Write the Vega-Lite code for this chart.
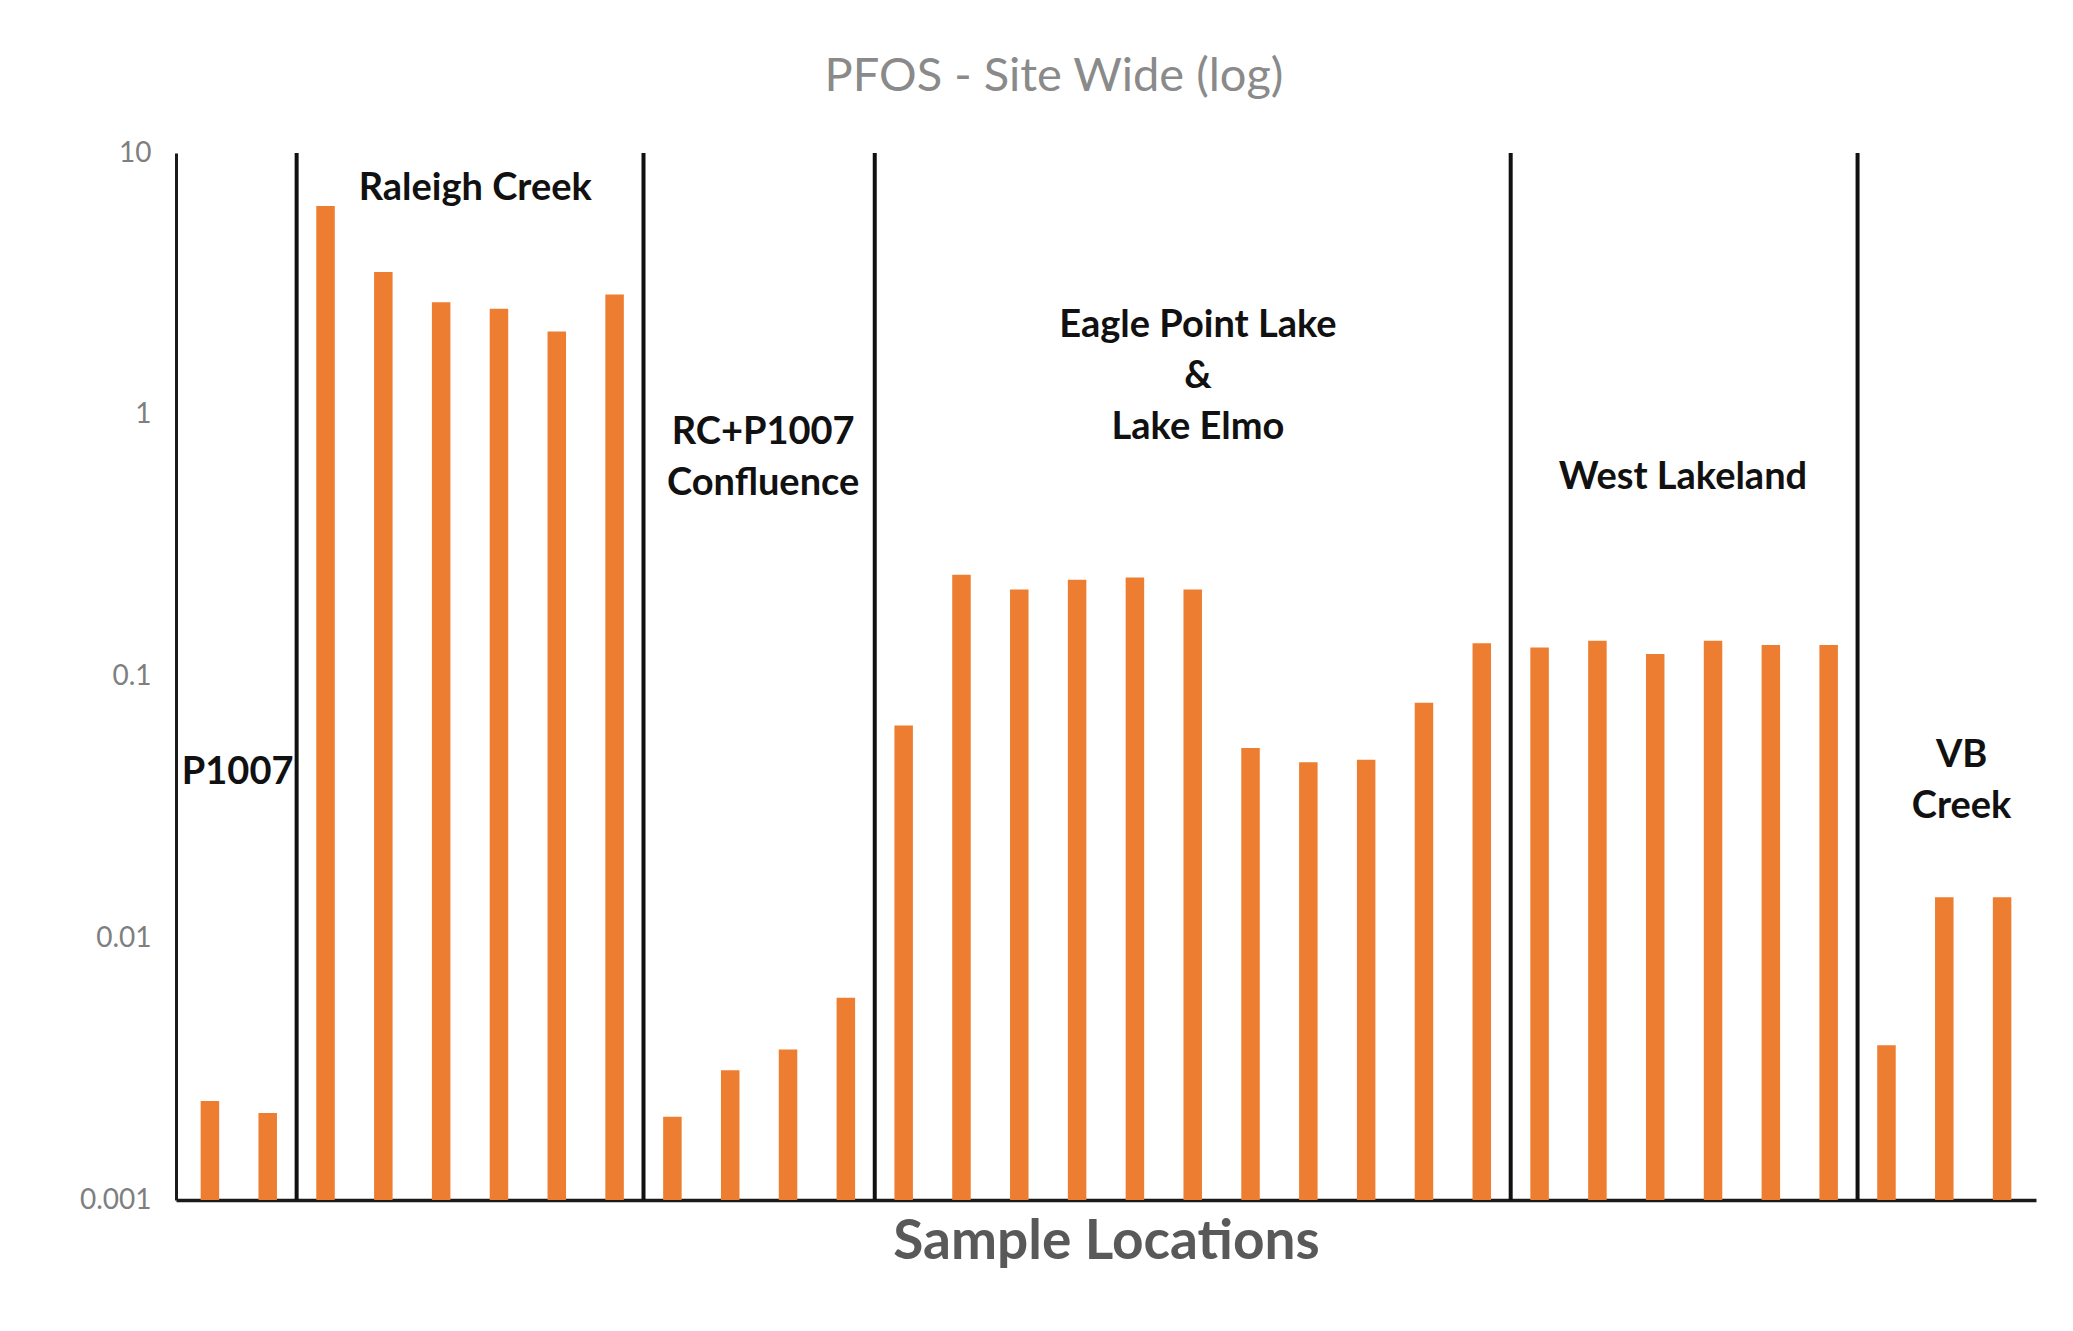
{
  "$schema": "https://vega.github.io/schema/vega-lite/v6.json",
  "width": 1860,
  "height": 1047,
  "autosize": {"type": "none"},
  "padding": {"left": 176, "top": 153, "right": 37, "bottom": 131},
  "background": "white",
  "config": {"view": {"stroke": null}, "font": "Lato"},
  "title": {
    "text": "PFOS - Site Wide (log)",
    "fontSize": 47,
    "font": "Lato",
    "fontWeight": "normal",
    "color": "#8a8a8a",
    "anchor": "middle",
    "frame": "group",
    "dx": -52,
    "baseline": "alphabetic",
    "offset": 1
  },
  "datasets": {
    "samples": [
      {"sample": 1, "area": "P1007", "pfos": 0.00239},
      {"sample": 2, "area": "P1007", "pfos": 0.00215},
      {"sample": 3, "area": "Raleigh Creek", "pfos": 6.28},
      {"sample": 4, "area": "Raleigh Creek", "pfos": 3.51},
      {"sample": 5, "area": "Raleigh Creek", "pfos": 2.69},
      {"sample": 6, "area": "Raleigh Creek", "pfos": 2.54},
      {"sample": 7, "area": "Raleigh Creek", "pfos": 2.08},
      {"sample": 8, "area": "Raleigh Creek", "pfos": 2.88},
      {"sample": 9, "area": "RC+P1007 Confluence", "pfos": 0.00208},
      {"sample": 10, "area": "RC+P1007 Confluence", "pfos": 0.00313},
      {"sample": 11, "area": "RC+P1007 Confluence", "pfos": 0.00376},
      {"sample": 12, "area": "RC+P1007 Confluence", "pfos": 0.00593},
      {"sample": 13, "area": "Eagle Point Lake & Lake Elmo", "pfos": 0.065},
      {"sample": 14, "area": "Eagle Point Lake & Lake Elmo", "pfos": 0.245},
      {"sample": 15, "area": "Eagle Point Lake & Lake Elmo", "pfos": 0.215},
      {"sample": 16, "area": "Eagle Point Lake & Lake Elmo", "pfos": 0.234},
      {"sample": 17, "area": "Eagle Point Lake & Lake Elmo", "pfos": 0.239},
      {"sample": 18, "area": "Eagle Point Lake & Lake Elmo", "pfos": 0.215},
      {"sample": 19, "area": "Eagle Point Lake & Lake Elmo", "pfos": 0.0533},
      {"sample": 20, "area": "Eagle Point Lake & Lake Elmo", "pfos": 0.047},
      {"sample": 21, "area": "Eagle Point Lake & Lake Elmo", "pfos": 0.0481},
      {"sample": 22, "area": "Eagle Point Lake & Lake Elmo", "pfos": 0.0793},
      {"sample": 23, "area": "Eagle Point Lake & Lake Elmo", "pfos": 0.134},
      {"sample": 24, "area": "West Lakeland", "pfos": 0.129},
      {"sample": 25, "area": "West Lakeland", "pfos": 0.137},
      {"sample": 26, "area": "West Lakeland", "pfos": 0.122},
      {"sample": 27, "area": "West Lakeland", "pfos": 0.137},
      {"sample": 28, "area": "West Lakeland", "pfos": 0.132},
      {"sample": 29, "area": "West Lakeland", "pfos": 0.132},
      {"sample": 30, "area": "VB Creek", "pfos": 0.0039},
      {"sample": 31, "area": "VB Creek", "pfos": 0.01435},
      {"sample": 32, "area": "VB Creek", "pfos": 0.01435}
    ],
    "dividers": [
      {"pos": 2.5}, {"pos": 8.5}, {"pos": 12.5}, {"pos": 23.5}, {"pos": 29.5}
    ],
    "labels": [
      {"label": "P1007", "pos": 1.48, "level": 0.0428},
      {"label": "Raleigh Creek", "pos": 5.59, "level": 7.31},
      {"label": "RC+P1007\nConfluence", "pos": 10.57, "level": 0.849},
      {"label": "Eagle Point Lake\n&\nLake Elmo", "pos": 18.09, "level": 2.18},
      {"label": "West Lakeland", "pos": 26.48, "level": 0.573},
      {"label": "VB\nCreek", "pos": 31.3, "level": 0.0498}
    ]
  },
  "layer": [
    {
      "data": {"name": "samples"},
      "mark": {"type": "bar", "width": 18.5, "color": "#ED7D31"},
      "encoding": {
        "x": {
          "field": "sample",
          "type": "quantitative",
          "scale": {"domain": [0.5, 32.5], "nice": false, "zero": false},
          "axis": {
            "title": "Sample Locations",
            "labels": false,
            "ticks": false,
            "grid": false,
            "domainColor": "#1a1a1a",
            "domainWidth": 3.5,
            "titleFont": "Lato",
            "titleFontSize": 55,
            "titleFontWeight": "bold",
            "titleColor": "#595959",
            "titlePadding": 15
          }
        },
        "y": {
          "field": "pfos",
          "type": "quantitative",
          "scale": {"type": "log", "domain": [0.001, 10], "nice": false},
          "axis": {
            "title": null,
            "values": [0.001, 0.01, 0.1, 1, 10],
            "format": "~g",
            "ticks": false,
            "grid": false,
            "domainColor": "#1a1a1a",
            "domainWidth": 3,
            "labelFont": "Lato",
            "labelFontSize": 28,
            "labelColor": "#7f7f7f",
            "labelPadding": 25
          }
        },
        "y2": {"datum": 0.001}
      }
    },
    {
      "data": {"name": "dividers"},
      "mark": {"type": "rule", "color": "#111111", "strokeWidth": 4},
      "encoding": {
        "x": {"field": "pos", "type": "quantitative"},
        "y": {"datum": 0.001},
        "y2": {"datum": 10}
      }
    },
    {
      "data": {"name": "labels"},
      "mark": {
        "type": "text",
        "font": "Lato",
        "fontWeight": "bold",
        "fontSize": 38,
        "color": "#111111",
        "lineBreak": "\n",
        "lineHeight": 51,
        "baseline": "middle",
        "align": "center"
      },
      "encoding": {
        "x": {"field": "pos", "type": "quantitative"},
        "y": {"field": "level", "type": "quantitative"},
        "text": {"field": "label"}
      }
    }
  ]
}
